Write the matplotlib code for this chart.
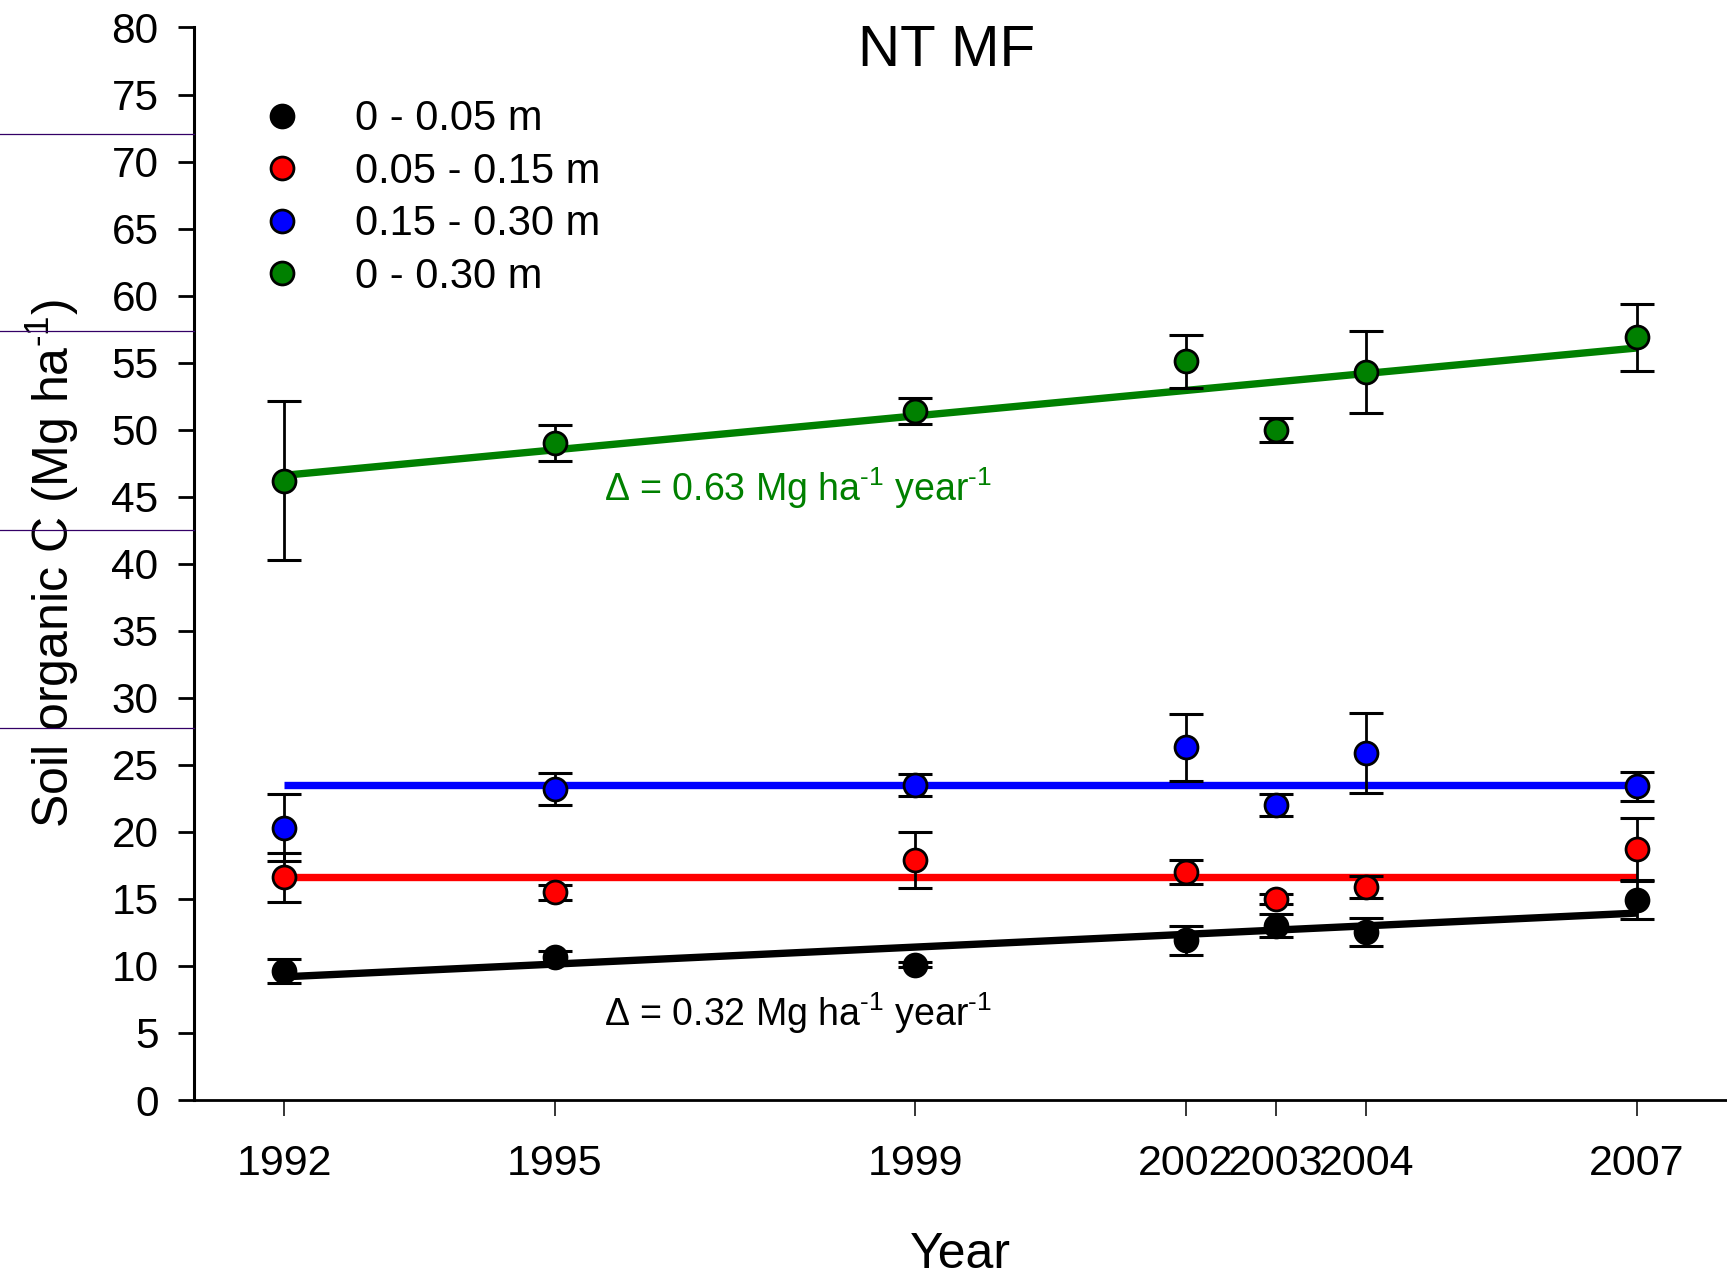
import matplotlib
matplotlib.use('Agg')
import matplotlib.pyplot as plt
import numpy as np
from matplotlib.lines import Line2D

plt.rcParams['font.family'] = ['Liberation Sans', 'DejaVu Sans']
plt.rcParams['mathtext.fontset'] = 'custom'
plt.rcParams['mathtext.rm'] = 'Liberation Sans'
plt.rcParams['mathtext.it'] = 'Liberation Sans:italic'
plt.rcParams['mathtext.bf'] = 'Liberation Sans:bold'

# ---------------- data ----------------
years = [1992, 1995, 1999, 2002, 2003, 2004, 2007]
year_labels = ['1992', '1995', '1999', '2002', '2003', '2004', '2007']

soc_0_005 = [9.6, 10.7, 10.1, 11.9, 13.0, 12.5, 14.9]
err_0_005 = [0.9, 0.45, 0.2, 1.05, 0.85, 1.05, 1.4]
soc_005_015 = [16.6, 15.5, 17.9, 17.0, 15.0, 15.9, 18.7]
err_005_015 = [1.85, 0.55, 2.1, 0.9, 0.4, 0.8, 2.3]
soc_015_030 = [20.3, 23.2, 23.5, 26.3, 22.0, 25.9, 23.4]
err_015_030 = [2.5, 1.2, 0.85, 2.5, 0.8, 3.0, 1.1]
soc_0_030 = [46.2, 49.0, 51.4, 55.1, 50.0, 54.3, 56.9]
err_0_030 = [5.95, 1.35, 1.0, 2.0, 0.9, 3.05, 2.5]

layer_labels = ['0 - 0.05 m', '0.05 - 0.15 m', '0.15 - 0.30 m', '0 - 0.30 m']
fit_kind = ['linear', 'mean', 'mean', 'linear']
slope_texts = {3: r'$\Delta$ = 0.63 Mg ha$^{\text{-1}}$ year$^{\text{-1}}$',
               0: r'$\Delta$ = 0.32 Mg ha$^{\text{-1}}$ year$^{\text{-1}}$'}
slope_text_pos = {3: (1995.55, 44.7), 0: (1995.55, 5.5)}

y_ticks = list(range(0, 81, 5))

# ---------------- style ----------------
colors = ['black', '#ff0000', '#0000ff', '#008000']
W, H = 1727, 1277
fig = plt.figure(figsize=(W / 100, H / 100), dpi=100)
ax_left, ax_right, ax_top, ax_bottom = 194, 1727, 27.5, 1100
ax = fig.add_axes([ax_left / W, 1 - ax_bottom / H, (ax_right - ax_left) / W,
                   (ax_bottom - ax_top) / H])

series = [(soc_0_005, err_0_005), (soc_005_015, err_005_015),
          (soc_015_030, err_015_030), (soc_0_030, err_0_030)]
x = np.array(years, dtype=float)

for i, ((vals, errs), col) in enumerate(zip(series, colors)):
    v = np.array(vals)
    if fit_kind[i] == 'linear':
        p = np.polyfit(x, v, 1)
        fy = np.polyval(p, [x.min(), x.max()])
    else:
        fy = [v.mean(), v.mean()]
    ax.plot([x.min(), x.max()], fy, color=col, lw=5.3, zorder=2,
            solid_capstyle='butt')
    ax.errorbar(x, v, yerr=errs, fmt='none', ecolor='black', elinewidth=2.0,
                capsize=12.5, capthick=2.2, zorder=3)
    ax.plot(x, v, 'o', ms=16.5, mfc=col, mec='black', mew=2.0, zorder=4)

for i, txt in slope_texts.items():
    ax.text(*slope_text_pos[i], txt, color=colors[i], fontsize=27,
            va='baseline', ha='left')

ax.set_xlim(1991, 2008)
ax.set_ylim(0, 80)
ax.set_xticks(years)
ax.set_xticklabels(year_labels, fontsize=31)
ax.set_yticks(y_ticks)
ax.set_yticklabels([str(t) for t in y_ticks], fontsize=30.5)
ax.tick_params(axis='x', direction='out', length=11.5, width=1.1, pad=20)
ax.tick_params(axis='y', direction='out', length=11.5, width=2.0, pad=14)

for s in ['top', 'right']:
    ax.spines[s].set_visible(False)
ax.spines['left'].set_linewidth(2.2)
ax.spines['bottom'].set_linewidth(2.0)

ax.set_xlabel('Year', fontsize=36, labelpad=35)
ax.set_ylabel(r'Soil organic C (Mg ha$^{\text{-1}}$)', fontsize=36, labelpad=22)

ax.text(0.491, 0.964, 'NT MF', transform=ax.transAxes, fontsize=42,
        ha='center', va='baseline')

handles = [Line2D([], [], marker='o', ls='none', ms=16.5, mfc=c, mec='black',
                  mew=2.0) for c in colors]
ax.legend(handles, layer_labels, loc='upper left',
          bbox_to_anchor=((261 - ax_left) / (ax_right - ax_left), 0.933),
          frameon=False, fontsize=30, handlelength=1.0, handletextpad=1.25,
          labelspacing=0.3, borderpad=0, borderaxespad=0)

# thin purple rules at the left margin (present in the reference image)
for yy in [134, 331.5, 530, 728]:
    fig.add_artist(Line2D([0, ax_left / W], [1 - yy / H, 1 - yy / H],
                          color='#330066', lw=0.9, transform=fig.transFigure))

fig.savefig('out.png', dpi=100)
